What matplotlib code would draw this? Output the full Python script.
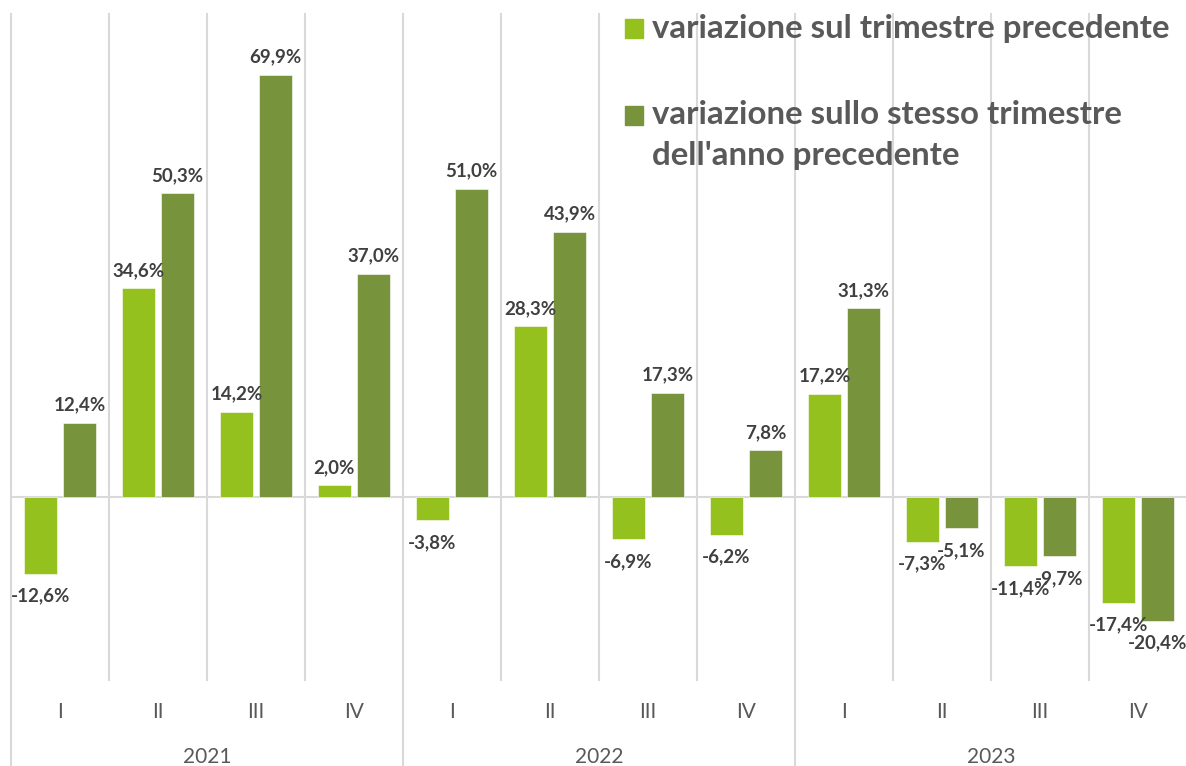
import matplotlib
matplotlib.use("Agg")
import matplotlib.pyplot as plt
import matplotlib.transforms as mtransforms
from matplotlib.lines import Line2D
from matplotlib.patches import Rectangle
import numpy as np

years = ["2021", "2022", "2023"]
quarters = ["I", "II", "III", "IV"]
var_trim_prec = [-12.6, 34.6, 14.2, 2.0, -3.8, 28.3, -6.9, -6.2, 17.2, -7.3, -11.4, -17.4]
var_stesso_trim = [12.4, 50.3, 69.9, 37.0, 51.0, 43.9, 17.3, 7.8, 31.3, -5.1, -9.7, -20.4]
series_names = ["variazione sul trimestre precedente",
                "variazione sullo stesso trimestre\ndell'anno precedente"]
colors = ["#95C11F", "#77933C"]

plt.rcParams['font.family'] = ['Lato', 'DejaVu Sans']

W, H = 1186, 766
fig = plt.figure(figsize=(W / 100, H / 100), dpi=100)
ax = fig.add_axes([11 / W, (H - 680) / H, 1176 / W, 666 / H])

n = len(var_trim_prec)
x = np.arange(n)
bw = 0.337
off = 0.2
ax.bar(x - off, var_trim_prec, bw, color=colors[0], edgecolor="white", linewidth=0.4, zorder=3)
ax.bar(x + off, var_stesso_trim, bw, color=colors[1], edgecolor="white", linewidth=0.4, zorder=3)

ax.set_xlim(-0.5, n - 0.5)
ax.set_ylim(-30.2, 80)
for s in ax.spines.values():
    s.set_visible(False)
ax.set_yticks([])

grid_c = "#D9D9D9"
ax.axhline(0, color=grid_c, lw=1.5, zorder=2)
trans = mtransforms.blended_transform_factory(ax.transData, ax.transAxes)
for b in np.arange(-0.5, n, 1.0):
    if b in (-0.5, 3.5, 7.5, n - 0.5):
        ax.add_line(Line2D([b, b], [1, -(H - 680) / 666], transform=trans, color=grid_c,
                           lw=1.5, clip_on=False, zorder=1))
    else:
        ax.add_line(Line2D([b, b], [0, 1], transform=trans, color=grid_c, lw=1.5,
                           clip_on=False, zorder=1))

ax.set_xticks(x, quarters * len(years))
ax.tick_params(axis="x", length=0, pad=16, labelsize=15, labelcolor="#595959")
for i, yr in enumerate(years):
    ax.text(i * 4 + 1.5, -(757 - 680) / 666, yr, transform=trans, ha="center", va="center",
            fontsize=15, color="#595959")

def fmt(v):
    return f"{v:.1f}%".replace(".", ",")

for vals, dx in ((var_trim_prec, -off), (var_stesso_trim, off)):
    for xi, v in zip(x, vals):
        dy = 13 if v >= 0 else -16
        ax.annotate(fmt(v), (xi + dx, v), xytext=(0, dy), textcoords="offset points",
                    ha="center", va="center", fontsize=13.5, fontweight="bold", color="#404040", zorder=5)

# legend
leg_items = [(19, [38], series_names[0], colors[0]), (106, [124, 165], series_names[1], colors[1])]
for ytop, baselines, name, c in leg_items:
    fig.patches.append(Rectangle((625 / W, 1 - (ytop + 19) / H), 18 / W, 19 / H, transform=fig.transFigure,
                                 color=c, zorder=5))
    for bl, line in zip(baselines, name.split("\n")):
        fig.text(652 / W, 1 - bl / H, line, ha="left", va="baseline", fontsize=23.8, fontweight="bold",
                 color="#595959")

fig.savefig("out.png", dpi=100)
